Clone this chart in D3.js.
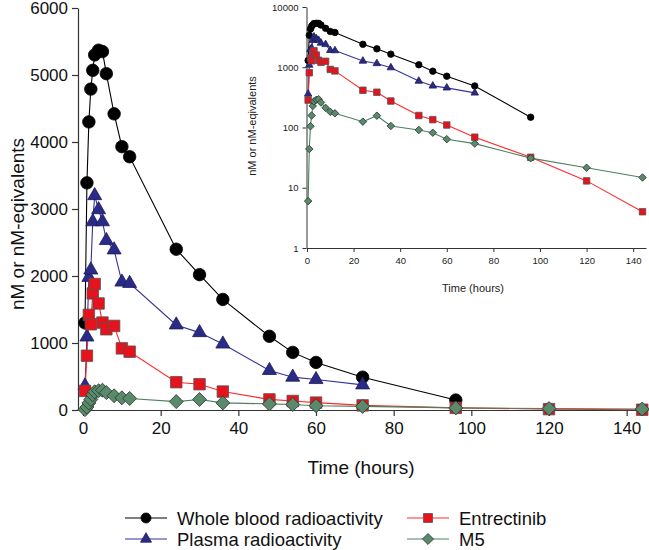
<!DOCTYPE html>
<html>
<head>
<meta charset="utf-8">
<script src="https://cdn.jsdelivr.net/npm/d3@7"></script>
<style>
  html, body { margin: 0; padding: 0; background: #fff; }
  svg { display: block; font-family: "Liberation Sans", Arial, sans-serif; }
</style>
</head>
<body>
<svg id="chart" width="649" height="550"></svg>
<script>
// ---- data ----
const time = [0.5, 1, 1.5, 2, 2.5, 3, 4, 5, 6, 8, 10, 12, 24, 30, 36, 48, 54, 60, 72, 96, 120, 144];
const wholeBlood = [1300, 3390, 4300, 4790, 5070, 5300, 5370, 5350, 5020, 4420, 3930, 3780, 2400, 2020, 1650, 1100, 860, 710, 490, 148];
const plasma = [360, 1090, 1980, 2090, 2810, 3200, 2990, 2810, 2530, 2390, 1910, 1890, 1270, 1155, 985, 590, 490, 455, 375];
const entrectinib = [285, 810, 1420, 1280, 1740, 1880, 1590, 1305, 1205, 1255, 920, 870, 415, 385, 275, 158, 135, 110, 69, 32, 13, 4];
const m5 = [6, 44, 105, 158, 228, 272, 288, 295, 260, 212, 182, 172, 125, 157, 106, 91, 82, 64, 54, 31, 21.5, 14.8];

const seriesNames = ["Whole blood radioactivity", "Plasma radioactivity", "Entrectinib", "M5"];
const xTicks = [0, 20, 40, 60, 80, 100, 120, 140];
const yTicksMain = [0, 1000, 2000, 3000, 4000, 5000, 6000];
const yTicksInset = [1, 10, 100, 1000, 10000];

const styles = [
  { line: "#000000", fill: "#000000", stroke: "#000000", shape: "circle" },
  { line: "#33339a", fill: "#2a2a88", stroke: "#1c1c55", shape: "triangle" },
  { line: "#ff2a2a", fill: "#e6121c", stroke: "#555555", shape: "square" },
  { line: "#4f8060", fill: "#5a8a6b", stroke: "#2a3a30", shape: "diamond" }
];

const seriesValues = [wholeBlood, plasma, entrectinib, m5];
const series = seriesNames.map((name, i) => ({
  name,
  style: styles[i],
  points: seriesValues[i].map((v, j) => ({ t: time[j], v }))
}));

const svg = d3.select("#chart");
const axisColor = "#333";

function markerPath(shape, scale) {
  switch (shape) {
    case "circle": return d3.symbol(d3.symbolCircle, Math.PI * (scale / 2) ** 2)();
    case "triangle": return d3.symbol(d3.symbolTriangle, Math.sqrt(3) / 4 * scale * scale)();
    case "square": return d3.symbol(d3.symbolSquare, scale * scale)();
    case "diamond": return d3.symbol(d3.symbolSquare, (scale / Math.SQRT2) ** 2)();
  }
}

function drawSeries(g, x, y, sizes, defined) {
  series.forEach(s => {
    const pts = s.points.filter(defined);
    g.append("path")
      .datum(pts)
      .attr("fill", "none")
      .attr("stroke", s.style.line)
      .attr("stroke-width", 1.1)
      .attr("d", d3.line().x(d => x(d.t)).y(d => y(d.v)));
  });
  series.forEach(s => {
    const pts = s.points.filter(defined);
    const size = sizes[s.style.shape];
    g.selectAll(null)
      .data(pts)
      .enter()
      .append("path")
      .attr("d", markerPath(s.style.shape, size))
      .attr("transform", d => `translate(${x(d.t)},${y(d.v)})` + (s.style.shape === "diamond" ? " rotate(45)" : ""))
      .attr("fill", s.style.fill)
      .attr("stroke", s.style.stroke)
      .attr("stroke-width", 0.8);
  });
}

// ---- main chart ----
const xMain = d3.scaleLinear().domain([-1.3, 145.5]).range([78, 648]);
const yMain = d3.scaleLinear().domain([0, 6000]).range([410, 8]);

const gMain = svg.append("g");
const xAxisMain = gMain.append("g")
  .attr("transform", "translate(0,410)")
  .call(d3.axisBottom(xMain).tickValues(xTicks).tickSize(6).tickSizeOuter(0).tickPadding(6).tickFormat(d3.format("d")));
const yAxisMain = gMain.append("g")
  .attr("transform", "translate(78,0)")
  .call(d3.axisLeft(yMain).tickValues(yTicksMain).tickSize(6).tickSizeOuter(0).tickPadding(4).tickFormat(d3.format("d")));
[xAxisMain, yAxisMain].forEach(a => {
  a.select(".domain").attr("stroke", axisColor).attr("stroke-width", 1.2);
  a.selectAll(".tick line").attr("stroke", axisColor).attr("stroke-width", 1.2);
  a.selectAll(".tick text").attr("fill", "#111").style("font-size", "17px").style("font-family", "Liberation Sans, Arial, sans-serif");
});

gMain.append("text")
  .attr("x", 361).attr("y", 474)
  .attr("text-anchor", "middle")
  .style("font-size", "19px").attr("fill", "#111")
  .text("Time (hours)");
gMain.append("text")
  .attr("transform", "translate(24,224) rotate(-90)")
  .attr("text-anchor", "middle")
  .style("font-size", "19px").attr("fill", "#111")
  .text("nM or nM-eqivalents");

drawSeries(gMain.append("g"), xMain, yMain,
  { circle: 12.5, triangle: 14, square: 11.5, diamond: 14 }, d => true);

// ---- inset (log) ----
const xIn = d3.scaleLinear().domain([-0.2, 145.5]).range([306.5, 646]);
const yIn = d3.scaleLog().domain([1, 10000]).range([248, 7]);

const gIn = svg.append("g");
const xAxisIn = gIn.append("g")
  .attr("transform", "translate(0,248)")
  .call(d3.axisBottom(xIn).tickValues(xTicks).tickSize(4).tickSizeOuter(0).tickPadding(5).tickFormat(d3.format("d")));
const yAxisIn = gIn.append("g")
  .attr("transform", "translate(306.5,0)")
  .call(d3.axisLeft(yIn).tickValues(yTicksInset).tickSize(4).tickSizeOuter(0).tickPadding(4).tickFormat(d3.format("d")));
[xAxisIn, yAxisIn].forEach(a => {
  a.select(".domain").attr("stroke", axisColor).attr("stroke-width", 1);
  a.selectAll(".tick line").attr("stroke", axisColor).attr("stroke-width", 1);
  a.selectAll(".tick text").attr("fill", "#222").style("font-size", "9.5px").style("font-family", "Liberation Sans, Arial, sans-serif");
});
gIn.append("text")
  .attr("x", 473).attr("y", 292)
  .attr("text-anchor", "middle")
  .style("font-size", "11px").attr("fill", "#222")
  .text("Time (hours)");
gIn.append("text")
  .attr("transform", "translate(256,126) rotate(-90)")
  .attr("text-anchor", "middle")
  .style("font-size", "11px").attr("fill", "#222")
  .text("nM or nM-eqivalents");

drawSeries(gIn.append("g"), xIn, yIn,
  { circle: 6.5, triangle: 7.5, square: 6.5, diamond: 7.5 }, d => d.v > 0);

// ---- legend ----
const legendPos = [
  { x: 125, y: 518 }, { x: 125, y: 539 }, { x: 407, y: 518 }, { x: 407, y: 539 }
];
const gLeg = svg.append("g");
series.forEach((s, i) => {
  const p = legendPos[i];
  const g = gLeg.append("g").attr("transform", `translate(${p.x},${p.y})`);
  g.append("line").attr("x1", 0).attr("x2", 42).attr("y1", 0).attr("y2", 0)
    .attr("stroke", s.style.line).attr("stroke-width", 1.1);
  const size = { circle: 10, triangle: 11, square: 9, diamond: 11 }[s.style.shape];
  g.append("path")
    .attr("d", markerPath(s.style.shape, size))
    .attr("transform", `translate(21,0)` + (s.style.shape === "diamond" ? " rotate(45)" : ""))
    .attr("fill", s.style.fill).attr("stroke", s.style.stroke).attr("stroke-width", 0.8);
  g.append("text")
    .attr("x", 52).attr("y", 6.5)
    .style("font-size", "18.5px").attr("fill", "#111")
    .text(s.name);
});
</script>
</body>
</html>
